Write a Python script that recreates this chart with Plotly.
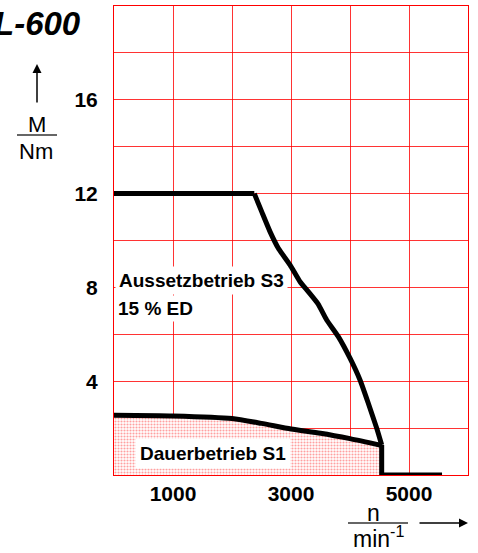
import plotly.graph_objects as go

# ---- data ----
s3_rpm = [0, 2378, 2503, 2644, 2785, 2983, 3153, 3293, 3458, 3605, 3802, 4000, 4170, 4310, 4453, 4537, 4537, 5560]
s3_torque = [12, 12, 11.23, 10.38, 9.67, 8.96, 8.24, 7.82, 7.3, 6.61, 5.9, 4.98, 4.05, 3.06, 1.99, 1.28, 0, 0]

s1_rpm = [0, 1000, 2000, 2500, 3000, 3500, 4000, 4537]
s1_torque = [2.55, 2.52, 2.41, 2.2, 1.96, 1.78, 1.55, 1.26]

x_tickvals = [0, 1000, 2000, 3000, 4000, 5000, 6000]
x_ticktext = ["", "1000", "", "3000", "", "5000", ""]
y_tickvals = [0, 2, 4, 6, 8, 10, 12, 14, 16, 18, 20]
y_ticktext = ["", "", "4", "", "8", "", "12", "", "16", "", ""]

FONT = "Liberation Sans, Arial, sans-serif"

# plot area in pixels
L, R, T, B = 114, 468, 6, 475
W, H = 478, 553


def px(x):
    return (x - L) / (R - L)


def py(y):
    return (B - y) / (B - T)


fig = go.Figure()

# stippled fill under continuous-duty curve
fig.add_trace(go.Scatter(
    x=s1_rpm + [s1_rpm[-1]], y=s1_torque + [0],
    mode="lines", line=dict(width=0, color="rgba(0,0,0,0)"),
    fill="tozeroy", fillcolor="rgba(255,255,255,0)",
    fillpattern=dict(shape=".", fgcolor="rgba(255,30,30,0.85)", bgcolor="white",
                     size=3, solidity=0.4),
    hoverinfo="skip", showlegend=False,
))

fig.add_trace(go.Scatter(
    x=s1_rpm, y=s1_torque, mode="lines",
    line=dict(color="black", width=5, shape="spline", smoothing=0.6),
    cliponaxis=False, showlegend=False,
))

# S3: flat part, curved part (smoothed), drop + zero part
segs = [(0, 2, "linear"), (1, 16, "spline"), (15, len(s3_rpm), "linear")]
for a, b, shp in segs:
    fig.add_trace(go.Scatter(
        x=s3_rpm[a:b], y=s3_torque[a:b], mode="lines",
        line=dict(color="black", width=5, shape=shp, smoothing=0.5) if shp == "spline"
        else dict(color="black", width=5, shape=shp),
        cliponaxis=False, showlegend=False,
    ))

ann = []
ann.append(dict(x=px(83), y=py(24), xref="paper", yref="paper", text="L-600",
                showarrow=False, xanchor="right", yanchor="middle",
                font=dict(family=FONT, size=33, color="black", weight="bold", style="italic")))
ann.append(dict(x=px(37), y=py(124), xref="paper", yref="paper", text="M",
                showarrow=False, xanchor="center", yanchor="middle",
                font=dict(family=FONT, size=22, color="black")))
ann.append(dict(x=px(36), y=py(151), xref="paper", yref="paper", text="Nm",
                showarrow=False, xanchor="center", yanchor="middle",
                font=dict(family=FONT, size=22, color="black")))
ann.append(dict(x=px(37), y=py(64), xref="paper", yref="paper", text="",
                showarrow=True, ax=0, ay=40, arrowhead=2, arrowsize=1.2,
                arrowwidth=1.5, arrowcolor="black"))
ann.append(dict(x=px(373), y=py(513), xref="paper", yref="paper", text="n",
                showarrow=False, xanchor="center", yanchor="middle",
                font=dict(family=FONT, size=23, color="black")))
ann.append(dict(x=px(378), y=py(537), xref="paper", yref="paper", text="min<sup>-1</sup>",
                showarrow=False, xanchor="center", yanchor="middle",
                font=dict(family=FONT, size=23, color="black")))
ann.append(dict(x=px(468), y=py(523), xref="paper", yref="paper", text="",
                showarrow=True, ax=-50, ay=0, arrowhead=2, arrowsize=1.2,
                arrowwidth=1.5, arrowcolor="black"))
ann.append(dict(x=px(115), y=py(280), xref="paper", yref="paper", text="<b>Aussetzbetrieb S3</b>",
                showarrow=False, xanchor="left", yanchor="middle", bgcolor="white", borderpad=3,
                font=dict(family=FONT, size=19, color="black")))
ann.append(dict(x=px(115), y=py(308), xref="paper", yref="paper", text="<b>15 % ED</b>",
                showarrow=False, xanchor="left", yanchor="middle", bgcolor="white", borderpad=2,
                font=dict(family=FONT, size=19, color="black")))
ann.append(dict(x=px(135), y=py(453), xref="paper", yref="paper", text="<b>Dauerbetrieb S1</b>",
                showarrow=False, xanchor="left", yanchor="middle", bgcolor="white", borderpad=4,
                font=dict(family=FONT, size=19, color="black")))

shapes = [
    dict(type="line", xref="paper", yref="paper", x0=px(17), x1=px(57), y0=py(135), y1=py(135),
         line=dict(color="#333", width=1.5)),
    dict(type="line", xref="paper", yref="paper", x0=px(348), x1=px(408), y0=py(523), y1=py(523),
         line=dict(color="#333", width=1.5)),
]

fig.update_layout(
    width=W, height=H,
    margin=dict(l=L, r=W - R, t=T, b=H - B, pad=0),
    paper_bgcolor="white", plot_bgcolor="white",
    font=dict(family=FONT, color="black"),
    annotations=ann, shapes=shapes, showlegend=False,
)
fig.update_xaxes(range=[0, 6000], tickvals=x_tickvals, ticktext=x_ticktext,
                 showgrid=True, gridcolor="rgba(255,0,0,0.8)", gridwidth=1,
                 showline=True, mirror=True, linecolor="red", linewidth=1,
                 zeroline=False, ticks="", ticklabelstandoff=0,
                 tickfont=dict(family=FONT, size=21, color="black", weight="bold"))
fig.update_yaxes(range=[0, 20], tickvals=y_tickvals, ticktext=y_ticktext,
                 showgrid=True, gridcolor="rgba(255,0,0,0.8)", gridwidth=1,
                 showline=True, mirror=True, linecolor="red", linewidth=1,
                 zeroline=False, ticks="", ticklabelstandoff=11,
                 tickfont=dict(family=FONT, size=21, color="black", weight="bold"))

fig.write_html("out.html", config={"displayModeBar": False},
               post_script="document.body.style.margin='0';")
